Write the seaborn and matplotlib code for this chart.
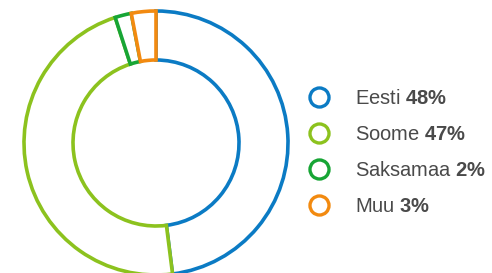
import matplotlib
matplotlib.use("Agg")
import matplotlib.pyplot as plt
from matplotlib.lines import Line2D
import seaborn as sns

sns.set_theme(style="white")
plt.rcParams["font.family"] = ["Liberation Sans", "DejaVu Sans"]
plt.rcParams["mathtext.fontset"] = "custom"
plt.rcParams["mathtext.rm"] = "Liberation Sans"
plt.rcParams["mathtext.bf"] = "Liberation Sans:bold"

countries = ["Eesti", "Soome", "Saksamaa", "Muu"]
shares = [48, 47, 2, 3]
colors = ["#0b7bc4", "#8cc21e", "#17a535", "#f28a10"]

W, H = 492, 273
fig = plt.figure(figsize=(W / 100, H / 100), dpi=100)

# donut: centre ~ (156, 143) px, outer radius ~132 px, inner ~83 px
R = 132
cx, cy = 156, 143
ax = fig.add_axes([(cx - R) / W, (H - cy - R) / H, 2 * R / W, 2 * R / H])
wedges, _ = ax.pie(
    shares,
    startangle=90,
    counterclock=False,
    radius=1,
    wedgeprops=dict(width=1 - 83 / 132, facecolor="white", linewidth=2.6),
)
for w, c in zip(wedges, colors):
    w.set_edgecolor(c)
    w.set_clip_on(False)
    w.set_joinstyle("miter")
ax.set_xlim(-1, 1)
ax.set_ylim(-1, 1)
ax.axis("off")

handles = [
    Line2D([], [], marker="o", ls="", ms=13.7, mfc="white", mec=c, mew=2.4)
    for c in colors
]
labels = [f"{n} $\\mathbf{{{v}\\%}}$" for n, v in zip(countries, shares)]
leg = fig.legend(
    handles, labels,
    loc="center left", bbox_to_anchor=(305 / W, (H - 152.5) / H),
    frameon=False, fontsize=14.5, handlelength=1.4, handletextpad=1.1,
    labelspacing=0.85, borderpad=0, borderaxespad=0,
)
for t in leg.get_texts():
    t.set_color("#4a4a4a")

fig.savefig("out.png", dpi=100)
